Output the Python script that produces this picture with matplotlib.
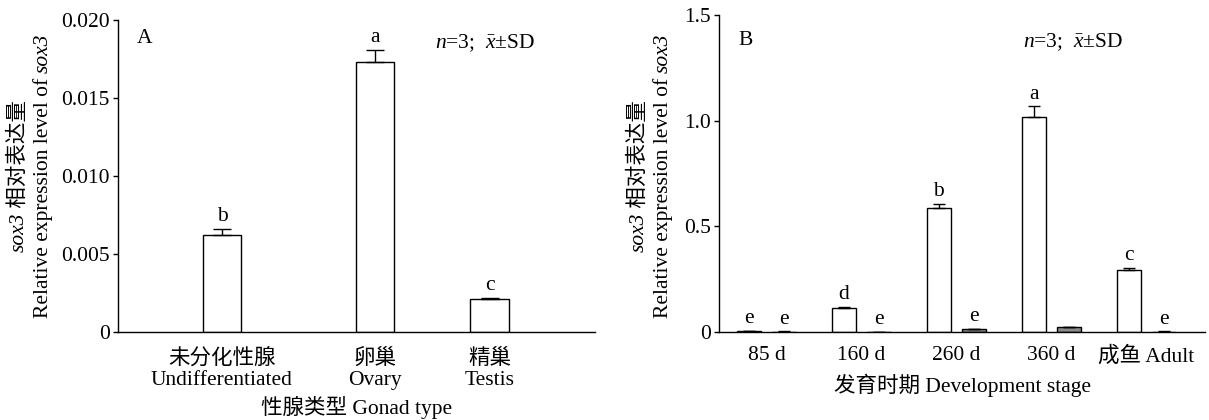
import numpy as np
import matplotlib
matplotlib.use("Agg")
import matplotlib.pyplot as plt
from matplotlib.ticker import FixedLocator, FixedFormatter
from matplotlib.transforms import IdentityTransform

plt.rcParams['font.family'] = ['Liberation Serif', 'Noto Sans CJK SC']
plt.rcParams['mathtext.fontset'] = 'custom'
plt.rcParams['mathtext.rm'] = 'Liberation Serif'
plt.rcParams['mathtext.it'] = 'Liberation Serif:italic'
plt.rcParams['font.size'] = 15.5

# A: gonad type
gonad_labels = ['未分化性腺\nUndifferentiated', '卵巢\nOvary', '精巢\nTestis']
gonad_vals = [0.0062, 0.0173, 0.0021]
gonad_err = [0.0004, 0.0008, 0.0001]
gonad_letters = ['b', 'a', 'c']

# B: development stage
stage_labels = ['85 d', '160 d', '260 d', '360 d', '成鱼 Adult']
white_vals = [0.005, 0.112, 0.585, 1.018, 0.295]
white_err = [0.002, 0.008, 0.020, 0.050, 0.008]
white_letters = ['e', 'd', 'b', 'a', 'c']
gray_vals = [0.002, 0.001, 0.012, 0.022, 0.002]
gray_err = [0.0005, 0.0003, 0.002, 0.002, 0.0005]
gray_letters = ['e', 'e', 'e', '', 'e']

note = '$\\mathit{n}$=3;  $\\bar{x}$±SD'

W, H = 1209, 420
fig = plt.figure(figsize=(W / 100, H / 100), dpi=100)
ax1 = fig.add_axes([118 / W, 1 - 332 / H, 477 / W, 312 / H])
ax2 = fig.add_axes([719 / W, 1 - 332 / H, 486 / W, 317 / H])


def style(ax, xpad):
    ax.spines['top'].set_visible(False)
    ax.spines['right'].set_visible(False)
    ax.spines['left'].set_linewidth(1.0)
    ax.spines['bottom'].set_linewidth(1.0)
    ax.tick_params(axis='y', direction='out', length=3.5, width=1, pad=2.5)
    ax.tick_params(axis='x', length=0, pad=xpad)


def bars(ax, x, vals, err, letters, color, w, cap):
    ax.bar(x, vals, width=w, color=color, edgecolor='black', linewidth=1.0, zorder=2)
    ax.errorbar(x, vals, yerr=[np.zeros(len(vals)), err], fmt='none',
                ecolor='black', elinewidth=1.0, capsize=cap, capthick=1.0, zorder=3)
    for xi, v, e, t in zip(x, vals, err, letters):
        if t:
            ax.annotate(t, (xi, v + e), xytext=(0, 2), textcoords='offset points',
                        ha='center', va='bottom')


def ylabel_rich(x_px, yc_px, pieces):
    # vertical label made of several pieces (italic gene name + plain text)
    r = fig.canvas.get_renderer()
    texts = [fig.text(0, 0, s, rotation=90, ha='center', va='bottom',
                      fontstyle=st, transform=IdentityTransform()) for s, st in pieces]
    hs = [t.get_window_extent(r).height for t in texts]
    y = yc_px - sum(hs) / 2
    for t, h in zip(texts, hs):
        t.set_position((x_px, y))
        y += h


# panel A
xa = np.array([0, 1, 1.75])
bars(ax1, xa, gonad_vals, gonad_err, gonad_letters, 'white', 0.25, 6.5)
ax1.set_xlim(-0.68, 2.44)
ax1.set_ylim(0, 0.020)
ax1.yaxis.set_major_locator(FixedLocator([0, 0.005, 0.010, 0.015, 0.020]))
ax1.yaxis.set_major_formatter(FixedFormatter(['0', '0.005', '0.010', '0.015', '0.020']))
ax1.set_xticks(xa)
ax1.set_xticklabels(gonad_labels, linespacing=1.15)
ax1.set_xlabel('性腺类型 Gonad type', labelpad=4)
ax1.text(0.055, 0.94, 'A', transform=ax1.transAxes, ha='center', va='center')
ax1.text(0.77, 0.925, note, transform=ax1.transAxes, ha='center', va='center')
style(ax1, 12)

# panel B
xb = np.arange(len(stage_labels))
bars(ax2, xb - 0.184, white_vals, white_err, white_letters, 'white', 0.25, 4)
bars(ax2, xb + 0.184, gray_vals, gray_err, gray_letters, '#8a8a8a', 0.25, 4)
ax2.set_xlim(-0.5, 4.62)
ax2.set_ylim(0, 1.5)
ax2.yaxis.set_major_locator(FixedLocator([0, 0.5, 1.0, 1.5]))
ax2.yaxis.set_major_formatter(FixedFormatter(['0', '0.5', '1.0', '1.5']))
ax2.set_xticks(xb)
ax2.set_xticklabels(stage_labels)
ax2.set_xlabel('发育时期 Development stage', labelpad=5)
ax2.text(0.054, 0.92, 'B', transform=ax2.transAxes, ha='center', va='center')
ax2.text(0.728, 0.915, note, transform=ax2.transAxes, ha='center', va='center')
style(ax2, 10)

for xl1, xl2 in [(19, 43), (639, 663)]:
    ylabel_rich(xl1, H - 176, [('sox3', 'italic'), (' 相对表达量', 'normal')])
    ylabel_rich(xl2, H - 176, [('Relative expression level of ', 'normal'), ('sox3', 'italic')])

fig.savefig('out.png', dpi=100)
